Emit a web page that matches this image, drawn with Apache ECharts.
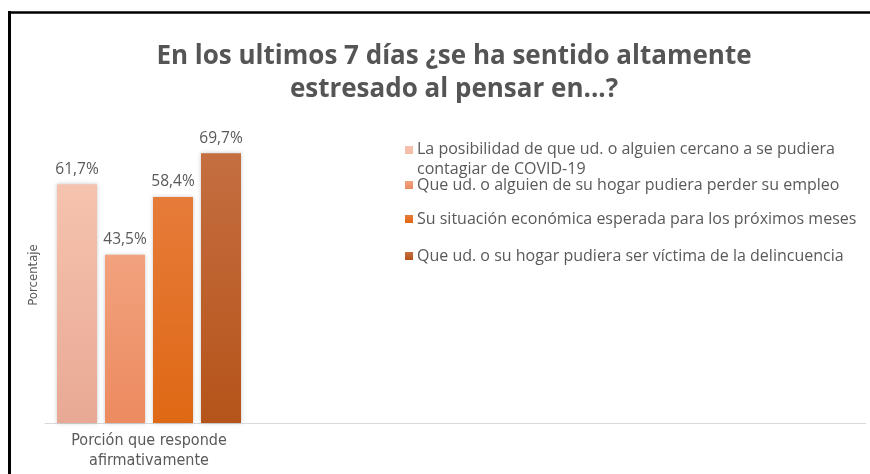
<!DOCTYPE html>
<html>
<head>
<meta charset="utf-8">
<script src="https://cdn.jsdelivr.net/npm/echarts@6/dist/echarts.min.js"></script>
<style>html,body{margin:0;padding:0;background:#fff;}#c{width:870px;height:474px;}</style>
</head>
<body>
<div id="c"></div>
<script>
const titleText = 'En los ultimos 7 días ¿se ha sentido altamente\nestresado al pensar en...?';
const categories = ['Porción que responde\nafirmativamente'];
const seriesNames = [
  'La posibilidad de que ud. o alguien cercano a se pudiera contagiar de COVID-19',
  'Que ud. o alguien de su hogar pudiera perder su empleo',
  'Su situación económica esperada para los próximos meses',
  'Que ud. o su hogar pudiera ser víctima de la delincuencia'
];
const values = [61.7, 43.5, 58.4, 69.7];
const yAxisName = 'Porcentaje';

const colorsTop = ['#F6C3AE', '#F2A27E', '#E67B3A', '#C56E40'];
const colorsBottom = ['#E8A994', '#EC8A60', '#DF6814', '#B5541A'];
const legendTops = [139, 175, 209, 246];

const chart = echarts.init(document.getElementById('c'));
const sans = "'Open Sans', sans-serif";
const narrow = "'Liberation Sans Narrow', 'DejaVu Sans Condensed', sans-serif";

const series = seriesNames.map((n, i) => ({
  name: n,
  type: 'bar',
  barWidth: 40,
  barGap: '20%',
  data: [values[i]],
  itemStyle: {
    color: new echarts.graphic.LinearGradient(0, 0, 0, 1, [
      {offset: 0, color: colorsTop[i]},
      {offset: 1, color: colorsBottom[i]}
    ]),
    shadowBlur: 4,
    shadowColor: 'rgba(0,0,0,0.22)'
  },
  label: {
    show: true,
    position: 'top',
    distance: 7,
    fontFamily: sans,
    fontSize: 15.5,
    color: '#595959',
    formatter: p => p.value.toFixed(1).replace('.', ',') + '%'
  }
}));

const legendIcon = 'path://M0,0L8,0L8,8L0,8Z';
const legendIconTall = 'path://M0,0L8,0L8,8L0,8Z M0,26L0.01,26Z';
const legends = seriesNames.map((n, i) => ({
  data: [n],
  left: 405,
  top: legendTops[i],
  padding: 0,
  itemWidth: 8,
  itemHeight: i === 0 ? 26 : 8,
  itemGap: 0,
  icon: i === 0 ? legendIconTall : legendIcon,
  selectedMode: false,
  textStyle: Object.assign({
    fontFamily: sans,
    fontSize: 16,
    color: '#595959',
    lineHeight: 20,
    padding: [0, 0, 0, -1]
  }, i === 0 ? {width: 455, overflow: 'break'} : {})
}));

chart.setOption({
  animation: false,
  backgroundColor: '#fff',
  title: {
    text: titleText,
    left: 454,
    textAlign: 'center',
    top: 40,
    padding: 0,
    textStyle: {
      fontFamily: sans,
      fontWeight: 'bold',
      fontSize: 26,
      lineHeight: 33,
      color: '#555555'
    }
  },
  legend: legends,
  grid: {left: 45, width: 208, top: 127, bottom: 51, containLabel: false},
  xAxis: {
    type: 'category',
    data: categories,
    axisLine: {show: true, lineStyle: {color: '#D9D9D9', width: 1}},
    axisTick: {show: false},
    axisLabel: {
      margin: 8,
      fontFamily: narrow,
      fontSize: 16,
      lineHeight: 20,
      color: '#595959'
    }
  },
  yAxis: {
    type: 'value',
    min: 0,
    max: 76.5,
    name: yAxisName,
    nameLocation: 'middle',
    nameRotate: 90,
    nameGap: 5,
    nameTextStyle: {fontFamily: narrow, fontSize: 13, color: '#595959'},
    axisLine: {show: false},
    axisTick: {show: false},
    axisLabel: {show: false},
    splitLine: {show: false}
  },
  series: series,
  graphic: [
    {type: 'line', z: 0, shape: {x1: 253, y1: 423.5, x2: 866, y2: 423.5}, style: {stroke: '#D9D9D9', lineWidth: 1}},
    {type: 'line', shape: {x1: 8, y1: 12.5, x2: 870, y2: 12.5}, style: {stroke: '#000', lineWidth: 2.5}},
    {type: 'line', shape: {x1: 9.5, y1: 11, x2: 9.5, y2: 474}, style: {stroke: '#000', lineWidth: 3}}
  ]
});
</script>
</body>
</html>
